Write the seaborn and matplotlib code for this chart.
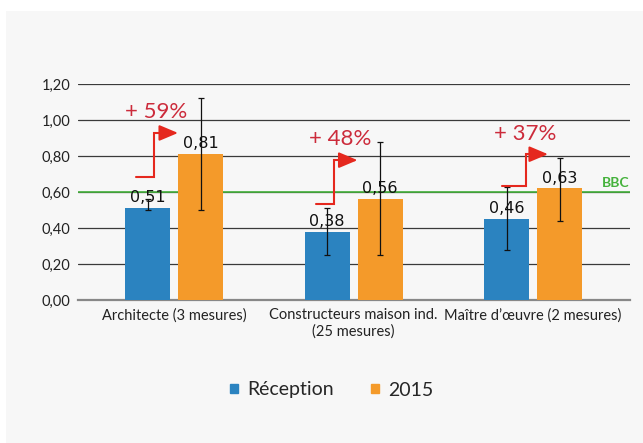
import numpy as np
import pandas as pd
import matplotlib
matplotlib.use("Agg")
import matplotlib.pyplot as plt
import seaborn as sns

# ── Data ──
categories = ["Architecte (3 mesures)", "Constructeurs maison ind.\n(25 mesures)",
              "Maître d’œuvre (2 mesures)"]
series = ["Réception", "2015"]
reception = [0.51, 0.38, 0.45]
y2015 = [0.81, 0.56, 0.62]
reception_labels = ["0,51", "0,38", "0,46"]
y2015_labels = ["0,81", "0,56", "0,63"]
reception_lo = [0.50, 0.25, 0.28]
reception_hi = [0.56, 0.51, 0.63]
y2015_lo = [0.50, 0.25, 0.44]
y2015_hi = [1.12, 0.88, 0.79]
gains = ["+ 59%", "+ 48%", "+ 37%"]
bbc_level = 0.60
yticks = [0.0, 0.2, 0.4, 0.6, 0.8, 1.0, 1.2]
ytick_labels = ["0,00", "0,20", "0,40", "0,60", "0,80", "1,00", "1,20"]

# annotation placement (elbow arrows and % text), in data units
arrow_low = [0.683, 0.533, 0.633]
arrow_high = [0.928, 0.777, 0.81]
arrow_start_dx = [-0.064, -0.064, -0.025]   # from Réception bar centre
arrow_knee_dx = [0.036, 0.036, 0.109]       # from Réception bar centre
arrow_tip_dx = [0.0, 0.0, 0.061]            # from 2015 bar left edge
text_dx = [-0.0975, -0.072, -0.042]         # from category centre
text_y = [1.045, 0.895, 0.92]

BLUE = "#2b83c0"
ORANGE = "#f49a2a"
RED = "#e5281e"
RED_TXT = "#cc2b3b"
GREEN = "#45b23c"
BG = "#f7f7f7"

df = pd.DataFrame({
    "cat": categories * 2,
    "serie": [series[0]] * 3 + [series[1]] * 3,
    "val": reception + y2015,
})

sns.set_theme(style="white")
plt.rcParams["font.family"] = ["Lato", "DejaVu Sans"]

fig = plt.figure(figsize=(6.43, 4.43), dpi=100)
fig.patch.set_facecolor("white")
fig.add_artist(plt.Rectangle((6 / 643, 0), 1, 1 - 11 / 443, transform=fig.transFigure,
                             facecolor=BG, edgecolor="none", zorder=-10))
ax = fig.add_axes([78 / 643, 1 - 300 / 443, (630 - 78) / 643, (300 - 84) / 443])
ax.set_facecolor(BG)

sns.barplot(data=df, x="cat", y="val", hue="serie", palette=[BLUE, ORANGE],
            saturation=1, width=0.59, gap=0.15, errorbar=None, ax=ax, legend=False,
            linewidth=0, edgecolor="none", zorder=3)

# grid
for t in yticks[1:]:
    ax.axhline(t, color="#3a3a3a", lw=0.9, zorder=1)
ax.axhline(bbc_level, color=GREEN, lw=1.2, zorder=2)

ax.set_ylim(0, 1.2)
ax.set_xlim(-0.535, 2.54)
ax.set_yticks(yticks)
ax.set_yticklabels(ytick_labels, fontsize=10.5, color="#222222")
ax.tick_params(axis="x", labelsize=10.5, colors="#222222", length=0, pad=6)
ax.tick_params(axis="y", length=0, pad=5.5)
ax.set_xlabel("")
ax.set_ylabel("")
for s in ["top", "right", "left"]:
    ax.spines[s].set_visible(False)
ax.spines["bottom"].set_color("#888888")
ax.spines["bottom"].set_linewidth(1.6)

# bar containers: first hue = Réception, second = 2015
cont_r, cont_b = ax.containers[0], ax.containers[1]
xs_r = [p.get_x() + p.get_width() / 2 for p in cont_r]
xs_b = [p.get_x() + p.get_width() / 2 for p in cont_b]
left_b = [p.get_x() for p in cont_b]

for xs, vals, lo, hi in [(xs_r, reception, reception_lo, reception_hi),
                         (xs_b, y2015, y2015_lo, y2015_hi)]:
    v = np.array(vals)
    err = [v - np.array(lo), np.array(hi) - v]
    ax.errorbar(xs, v, yerr=err, fmt="none", ecolor="#111111", elinewidth=0.9,
                capsize=2, capthick=0.9, zorder=5)

ax.bar_label(cont_r, labels=reception_labels, padding=2, fontsize=11.5,
             family="DejaVu Sans", color="#111111", zorder=6)
ax.bar_label(cont_b, labels=y2015_labels, padding=2, fontsize=11.5,
             family="DejaVu Sans", color="#111111", zorder=6)

# elbow arrows Réception -> 2015
for i in range(3):
    x0 = xs_r[i] + arrow_start_dx[i]
    xk = xs_r[i] + arrow_knee_dx[i]
    tip = left_b[i] + arrow_tip_dx[i]
    ax.plot([x0, xk, xk, tip - 0.06], [arrow_low[i], arrow_low[i], arrow_high[i], arrow_high[i]],
            color=RED, lw=1.5, zorder=7, solid_joinstyle="miter")
    ax.annotate("", xy=(tip, arrow_high[i]), xytext=(tip - 0.09, arrow_high[i]),
                arrowprops=dict(arrowstyle="-|>,head_length=0.95,head_width=0.4",
                                color=RED, lw=1.5, shrinkA=0, shrinkB=0), zorder=7)
    ax.text(i + text_dx[i], text_y[i], gains[i], color=RED_TXT,
            fontsize=16, ha="center", va="center", zorder=7)

ax.text(2.537, bbc_level + 0.017, "BBC", color=GREEN, fontsize=10, fontweight="bold",
        ha="right", va="bottom")

# legend
handles = [plt.Rectangle((0, 0), 1, 1, color=BLUE), plt.Rectangle((0, 0), 1, 1, color=ORANGE)]
fig.legend(handles, series, loc="center", bbox_to_anchor=(0.516, 1 - 390 / 443), ncol=2,
           frameon=False, fontsize=14, handlelength=0.4, handleheight=0.4,
           handletextpad=0.45, columnspacing=1.95)

fig.savefig("out.png", dpi=100, facecolor=fig.get_facecolor())
